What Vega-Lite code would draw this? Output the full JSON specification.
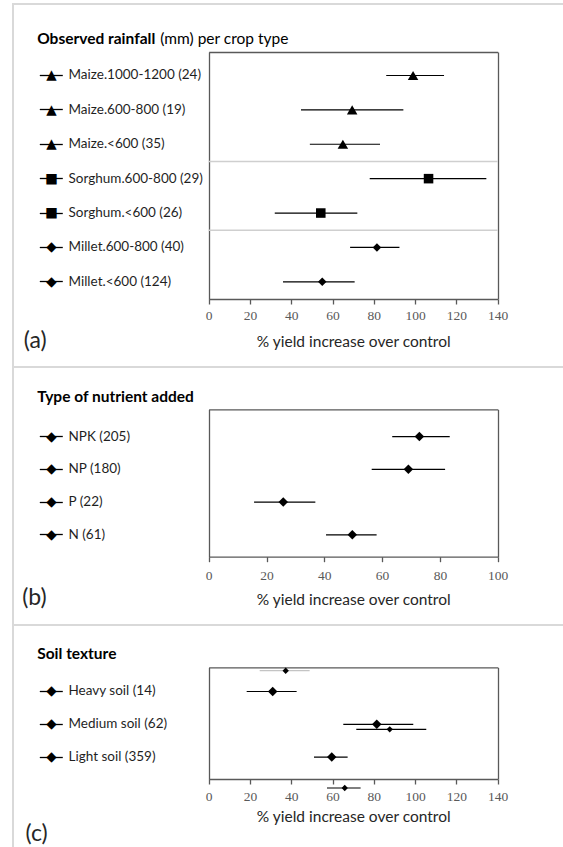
{
  "$schema": "https://vega.github.io/schema/vega-lite/v6.json",
  "background": "white",
  "padding": {"left": 12, "top": 3, "right": 0, "bottom": 0},
  "spacing": 0,
  "bounds": "flush",
  "config": {
    "view": {"stroke": "#d9d9d9", "strokeWidth": 2},
    "font": "Lato"
  },
  "datasets": {
    "rainfall": [
      {"crop": "Maize", "group": "Maize.1000-1200 (24)", "est": 99, "lo": 86, "hi": 114},
      {"crop": "Maize", "group": "Maize.600-800 (19)", "est": 69.5, "lo": 44.7, "hi": 94.3},
      {"crop": "Maize", "group": "Maize.<600 (35)", "est": 65, "lo": 49, "hi": 83},
      {"crop": "Sorghum", "group": "Sorghum.600-800 (29)", "est": 106.5, "lo": 78, "hi": 134.5},
      {"crop": "Sorghum", "group": "Sorghum.<600 (26)", "est": 54.3, "lo": 32, "hi": 72},
      {"crop": "Millet", "group": "Millet.600-800 (40)", "est": 81.5, "lo": 68.5, "hi": 92.4},
      {"crop": "Millet", "group": "Millet.<600 (124)", "est": 55, "lo": 36, "hi": 70.7}
    ],
    "nutrient": [
      {"group": "NPK (205)", "est": 72.9, "lo": 63.5, "hi": 83.4},
      {"group": "NP (180)", "est": 69.1, "lo": 56.4, "hi": 81.8},
      {"group": "P (22)", "est": 25.8, "lo": 15.7, "hi": 36.9},
      {"group": "N (61)", "est": 49.7, "lo": 40.6, "hi": 58.1}
    ],
    "soil": [
      {"group": "Heavy soil (14)", "est": 31, "lo": 18.4, "hi": 42.6},
      {"group": "Medium soil (62)", "est": 81.4, "lo": 65.2, "hi": 99.1},
      {"group": "Light soil (359)", "est": 59.6, "lo": 51, "hi": 67.3}
    ]
  },
  "vconcat": [
    {
      "width": 552,
      "height": 363,
      "data": {"name": "rainfall"},
      "transform": [
        {"window": [{"op": "row_number", "as": "i"}]},
        {"window": [{"op": "row_number", "as": "k"}], "groupby": ["crop"]}
      ],
      "layer": [
        {
          "mark": {"type": "rule", "color": "black", "strokeWidth": 1.2},
          "encoding": {
            "y": {
              "field": "group", "type": "nominal", "sort": null,
              "scale": {"type": "band", "range": [48, 295], "paddingInner": 0, "paddingOuter": 0.0916, "align": 1},
              "axis": {
                "orient": "left", "offset": -49.3, "domain": false, "grid": false,
                "ticks": true, "tickSize": 23, "tickColor": "black", "tickWidth": 1.3,
                "labelExpr": "indexof(datum.value, 'Maize') === 0 ? '▲' : indexof(datum.value, 'Sorghum') === 0 ? '■' : '◆'",
                "labelAlign": "center", "labelBaseline": "middle", "labelPadding": -11.7,
                "labelFont": "DejaVu Sans", "labelFontSize": 13.5, "labelColor": "black",
                "title": "(a)", "titleAngle": 0, "titleAlign": "left", "titleBaseline": "middle",
                "titleX": -39, "titleY": 336, "titleFont": "Lato", "titleFontSize": 23,
                "titleFontWeight": "normal", "titleColor": "#262626"
              }
            },
            "x": {
              "field": "lo", "type": "quantitative",
              "scale": {"domain": [0, 140], "range": [195.7, 484.7], "nice": false, "zero": false},
              "axis": {
                "orient": "bottom", "offset": -68, "values": [0, 20, 40, 60, 80, 100, 120, 140],
                "domain": true, "domainColor": "#595959", "domainWidth": 1.3,
                "ticks": true, "tickSize": 5, "tickColor": "#595959", "tickWidth": 1.3,
                "labelFont": "Liberation Serif", "labelFontSize": 13.5, "labelColor": "#595959",
                "labelBaseline": "middle", "labelPadding": 11, "labelFlush": false, "labelOverlap": false,
                "grid": false,
                "title": "% yield increase over control", "titleFont": "Lato", "titleFontSize": 15.5,
                "titleFontWeight": "normal", "titleColor": "#262626", "titleY": 42.5, "titleBaseline": "middle"
              }
            },
            "x2": {"field": "hi"}
          }
        },
        {
          "mark": {"type": "point", "filled": true, "opacity": 1, "color": "black"},
          "encoding": {
            "y": {
              "field": "group", "type": "nominal", "sort": null,
              "scale": {"type": "band", "range": [48, 295], "paddingInner": 0, "paddingOuter": 0.0916, "align": 1},
              "axis": {
                "orient": "left", "offset": -55, "domain": false, "ticks": false, "tickSize": 0, "grid": false,
                "labelAlign": "left", "labelBaseline": "middle", "labelPadding": 0,
                "labelFont": "Lato", "labelFontSize": 13.5, "labelColor": "#1f1f1f", "labelLimit": 300,
                "title": "Observed rainfall", "titleAngle": 0, "titleAlign": "left", "titleBaseline": "alphabetic",
                "titleX": -31.3, "titleY": 39, "titleFont": "Lato", "titleFontSize": 15.5,
                "titleFontWeight": "bold", "titleColor": "black"
              }
            },
            "x": {
              "field": "est", "type": "quantitative",
              "scale": {"domain": [0, 140], "range": [195.7, 484.7], "nice": false, "zero": false},
              "axis": {
                "orient": "top", "offset": -48, "values": [0, 140],
                "domain": true, "domainColor": "#595959", "domainWidth": 1.3,
                "ticks": false, "labels": false,
                "grid": true, "gridColor": "#595959", "gridWidth": 1.3, "gridOpacity": 1,
                "title": "(mm) per crop type", "titleX": 146.8, "titleY": -9, "titleAlign": "left",
                "titleBaseline": "alphabetic", "titleFont": "Lato", "titleFontSize": 15.5,
                "titleFontWeight": "normal", "titleColor": "black"
              }
            },
            "shape": {
              "field": "crop", "type": "nominal",
              "scale": {"domain": ["Maize", "Sorghum", "Millet"], "range": ["triangle-up", "square", "diamond"]},
              "legend": null
            },
            "size": {
              "field": "crop", "type": "ordinal",
              "scale": {"domain": ["Maize", "Sorghum", "Millet"], "range": [110, 72, 90]},
              "legend": null
            }
          }
        },
        {
          "mark": {"type": "rule", "color": "#cfcfcf", "strokeWidth": 1.5},
          "encoding": {
            "y": {"field": "group", "type": "nominal", "sort": null, "bandPosition": 0, "axis": null},
            "x": {"datum": 0, "axis": null},
            "x2": {"datum": 140},
            "strokeOpacity": {
              "condition": {"test": "datum.k === 1 && datum.i > 1", "value": 1},
              "value": 0
            }
          }
        }
      ],
      "resolve": {"axis": {"x": "independent", "y": "independent"}}
    },
    {
      "width": 552,
      "height": 258,
      "data": {"name": "nutrient"},
      "layer": [
        {
          "mark": {"type": "rule", "color": "black", "strokeWidth": 1.2},
          "encoding": {
            "y": {
              "field": "group", "type": "nominal", "sort": null,
              "scale": {"type": "band", "range": [42.3, 189.7], "paddingInner": 0, "paddingOuter": 0.2518, "align": 0.663},
              "axis": {
                "orient": "left", "offset": -49.3, "domain": false, "grid": false,
                "ticks": true, "tickSize": 23, "tickColor": "black", "tickWidth": 1.3,
                "labelExpr": "'◆'",
                "labelAlign": "center", "labelBaseline": "middle", "labelPadding": -11.7,
                "labelFont": "DejaVu Sans", "labelFontSize": 13.5, "labelColor": "black",
                "title": "(b)", "titleAngle": 0, "titleAlign": "left", "titleBaseline": "middle",
                "titleX": -40.6, "titleY": 230, "titleFont": "Lato", "titleFontSize": 23,
                "titleFontWeight": "normal", "titleColor": "#262626"
              }
            },
            "x": {
              "field": "lo", "type": "quantitative",
              "scale": {"domain": [0, 100], "range": [195.7, 484.7], "nice": false, "zero": false},
              "axis": {
                "orient": "bottom", "offset": -68.3, "values": [0, 20, 40, 60, 80, 100],
                "domain": true, "domainColor": "#595959", "domainWidth": 1.3,
                "ticks": true, "tickSize": 5, "tickColor": "#595959", "tickWidth": 1.3,
                "labelFont": "Liberation Serif", "labelFontSize": 13.5, "labelColor": "#595959",
                "labelBaseline": "middle", "labelPadding": 14, "labelFlush": false, "labelOverlap": false,
                "grid": false,
                "title": "% yield increase over control", "titleFont": "Lato", "titleFontSize": 15.5,
                "titleFontWeight": "normal", "titleColor": "#262626", "titleY": 42.3, "titleBaseline": "middle"
              }
            },
            "x2": {"field": "hi"}
          }
        },
        {
          "mark": {"type": "point", "filled": true, "opacity": 1, "color": "black", "shape": "diamond", "size": 90},
          "encoding": {
            "y": {
              "field": "group", "type": "nominal", "sort": null,
              "scale": {"type": "band", "range": [42.3, 189.7], "paddingInner": 0, "paddingOuter": 0.2518, "align": 0.663},
              "axis": {
                "orient": "left", "offset": -55, "domain": false, "ticks": false, "tickSize": 0, "grid": false,
                "labelAlign": "left", "labelBaseline": "middle", "labelPadding": 0,
                "labelFont": "Lato", "labelFontSize": 13.5, "labelColor": "#1f1f1f", "labelLimit": 300,
                "title": "Type of nutrient added", "titleAngle": 0, "titleAlign": "left", "titleBaseline": "alphabetic",
                "titleX": -31.3, "titleY": 34.3, "titleFont": "Lato", "titleFontSize": 15.5,
                "titleFontWeight": "bold", "titleColor": "black"
              }
            },
            "x": {
              "field": "est", "type": "quantitative",
              "scale": {"domain": [0, 100], "range": [195.7, 484.7], "nice": false, "zero": false},
              "axis": {
                "orient": "top", "offset": -42.3, "values": [0, 100],
                "domain": true, "domainColor": "#595959", "domainWidth": 1.3,
                "ticks": false, "labels": false,
                "grid": true, "gridColor": "#595959", "gridWidth": 1.3, "gridOpacity": 1,
                "title": null
              }
            }
          }
        }
      ],
      "resolve": {"axis": {"x": "independent", "y": "independent"}}
    },
    {
      "width": 552,
      "height": 225,
      "data": {"name": "soil"},
      "layer": [
        {
          "layer": [
            {
              "mark": {"type": "rule", "color": "black", "strokeWidth": 1.2},
              "encoding": {
                "y": {
                  "field": "group", "type": "nominal", "sort": null,
                  "scale": {"type": "band", "range": [42.3, 154], "paddingInner": 0, "paddingOuter": 0.2027, "align": 0.586},
                  "axis": {
                    "orient": "left", "offset": -49.3, "domain": false, "grid": false,
                    "ticks": true, "tickSize": 23, "tickColor": "black", "tickWidth": 1.3,
                    "labelExpr": "'◆'",
                    "labelAlign": "center", "labelBaseline": "middle", "labelPadding": -11.7,
                    "labelFont": "DejaVu Sans", "labelFontSize": 13.5, "labelColor": "black",
                    "title": "(c)", "titleAngle": 0, "titleAlign": "left", "titleBaseline": "middle",
                    "titleX": -37.3, "titleY": 208.5, "titleFont": "Lato", "titleFontSize": 23,
                    "titleFontWeight": "normal", "titleColor": "#262626"
                  }
                },
                "x": {
                  "field": "lo", "type": "quantitative",
                  "scale": {"domain": [0, 140], "range": [195.7, 484.7], "nice": false, "zero": false},
                  "axis": {
                    "orient": "bottom", "offset": -71, "values": [0, 20, 40, 60, 80, 100, 120, 140],
                    "domain": true, "domainColor": "#595959", "domainWidth": 1.3,
                    "ticks": true, "tickSize": 5, "tickColor": "#595959", "tickWidth": 1.3,
                    "labelFont": "Liberation Serif", "labelFontSize": 13.5, "labelColor": "#595959",
                    "labelBaseline": "middle", "labelPadding": 12, "labelFlush": false, "labelOverlap": false,
                    "grid": false,
                    "title": "% yield increase over control", "titleFont": "Lato", "titleFontSize": 15.5,
                    "titleFontWeight": "normal", "titleColor": "#262626", "titleY": 37.7, "titleBaseline": "middle"
                  }
                },
                "x2": {"field": "hi"}
              }
            },
            {
              "mark": {"type": "point", "filled": true, "opacity": 1, "color": "black", "shape": "diamond", "size": 90},
              "encoding": {
                "y": {
                  "field": "group", "type": "nominal", "sort": null,
                  "scale": {"type": "band", "range": [42.3, 154], "paddingInner": 0, "paddingOuter": 0.2027, "align": 0.586},
                  "axis": {
                    "orient": "left", "offset": -55, "domain": false, "ticks": false, "tickSize": 0, "grid": false,
                    "labelAlign": "left", "labelBaseline": "middle", "labelPadding": 0,
                    "labelFont": "Lato", "labelFontSize": 13.5, "labelColor": "#1f1f1f", "labelLimit": 300,
                    "title": "Soil texture", "titleAngle": 0, "titleAlign": "left", "titleBaseline": "alphabetic",
                    "titleX": -31.3, "titleY": 33, "titleFont": "Lato", "titleFontSize": 15.5,
                    "titleFontWeight": "bold", "titleColor": "black"
                  }
                },
                "x": {
                  "field": "est", "type": "quantitative",
                  "scale": {"domain": [0, 140], "range": [195.7, 484.7], "nice": false, "zero": false},
                  "axis": {
                    "orient": "top", "offset": -42.3, "values": [0, 140],
                    "domain": true, "domainColor": "#595959", "domainWidth": 1.3,
                    "ticks": false, "labels": false,
                    "grid": true, "gridColor": "#595959", "gridWidth": 1.3, "gridOpacity": 1,
                    "title": null
                  }
                }
              }
            }
          ],
          "resolve": {"axis": {"x": "independent", "y": "independent"}}
        },
        {
          "layer": [
            {
              "mark": {"type": "rule", "strokeWidth": 1.2},
              "encoding": {
                "y": {
                  "field": "group", "type": "nominal", "sort": null,
                  "scale": {"type": "band", "range": [16.4, 192.3], "paddingInner": 0, "paddingOuter": 0},
                  "axis": null
                },
                "x": {
                  "field": "lo", "type": "quantitative",
                  "scale": {"domain": [0, 140], "range": [208.7, 497.7], "nice": false, "zero": false},
                  "axis": null
                },
                "x2": {"field": "hi"},
                "color": {
                  "condition": {"test": "datum.group === 'Heavy soil (14)'", "value": "#c4c4c4"},
                  "value": "black"
                },
                "strokeWidth": {
                  "condition": {"test": "datum.group === 'Heavy soil (14)'", "value": 3},
                  "value": 1.2
                }
              }
            },
            {
              "mark": {"type": "point", "filled": true, "opacity": 1, "color": "black", "shape": "diamond", "size": 40},
              "encoding": {
                "y": {
                  "field": "group", "type": "nominal", "sort": null,
                  "scale": {"type": "band", "range": [16.4, 192.3], "paddingInner": 0, "paddingOuter": 0},
                  "axis": null
                },
                "x": {
                  "field": "est", "type": "quantitative",
                  "scale": {"domain": [0, 140], "range": [208.7, 497.7], "nice": false, "zero": false},
                  "axis": null
                }
              }
            }
          ]
        }
      ],
      "resolve": {
        "scale": {"x": "independent", "y": "independent"},
        "axis": {"x": "independent", "y": "independent"}
      }
    }
  ]
}
